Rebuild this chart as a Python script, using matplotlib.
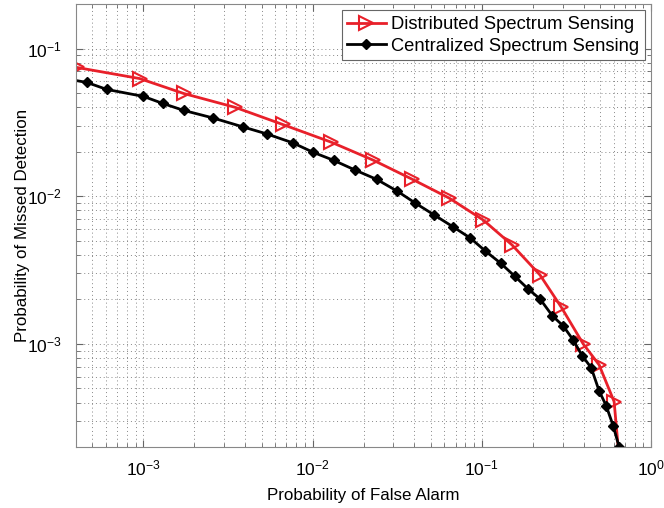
import matplotlib
matplotlib.use('Agg')
import matplotlib.pyplot as plt
import numpy as np

plt.rcParams['font.family'] = ['Liberation Sans', 'DejaVu Sans']
plt.rcParams['mathtext.fontset'] = 'custom'
plt.rcParams['mathtext.rm'] = 'Liberation Sans'
plt.rcParams['mathtext.it'] = 'Liberation Sans'

# distributed spectrum sensing (red, open triangles)
pfa_dist = [4.05e-4, 9.5e-4, 1.73e-3, 3.5e-3, 6.65e-3, 0.0129, 0.0229, 0.0389,
            0.0643, 0.102, 0.151, 0.221, 0.294, 0.397, 0.493, 0.605, 0.675]
pmd_dist = [0.0744, 0.0626, 0.0496, 0.0399, 0.0306, 0.0232, 0.0175, 0.0130,
            0.00969, 0.00689, 0.00467, 0.00292, 0.00178, 0.00100, 0.000721,
            0.000406, 0.000100]

# centralized spectrum sensing (black, filled diamonds)
pfa_cent = [3.6e-4, 4.64e-4, 6.09e-4, 1.0e-3, 1.30e-3, 1.73e-3, 2.57e-3, 3.86e-3,
            5.36e-3, 7.62e-3, 0.0101, 0.0133, 0.0179, 0.0239, 0.0317, 0.0405,
            0.0525, 0.0679, 0.0856, 0.105, 0.129, 0.156, 0.188, 0.221, 0.261,
            0.303, 0.347, 0.392, 0.443, 0.493, 0.543, 0.597, 0.647]
pmd_cent = [0.0620, 0.0589, 0.0528, 0.0474, 0.0425, 0.0381, 0.0339, 0.0295,
            0.0264, 0.0230, 0.0198, 0.0175, 0.0150, 0.0130, 0.0108, 0.00897,
            0.00744, 0.00618, 0.00520, 0.00425, 0.00352, 0.00288, 0.00235,
            0.00201, 0.00155, 0.00132, 0.00106, 0.000830, 0.000689, 0.000481,
            0.000381, 0.000279, 0.000201]

fig = plt.figure(figsize=(6.64, 5.08), dpi=100)
ax = fig.add_axes([0.1145, 0.12, 0.866, 0.872])

red = '#e8202a'
ax.loglog(pfa_dist, pmd_dist, color=red, lw=2, marker='>', ms=9.5,
          mfc='none', mec=red, mew=1.5, label='Distributed Spectrum Sensing')
ax.loglog(pfa_cent, pmd_cent, color='black', lw=2, marker='D', ms=5.5,
          mfc='black', mec='black', label='Centralized Spectrum Sensing')

ax.set_xlim(4e-4, 1)
ax.set_ylim(2e-4, 0.2)

ax.grid(True, which='both', linestyle=(0, (1, 3)), color='#888888', lw=0.7)
ax.tick_params(which='both', direction='in', top=True, right=True,
               colors='#666666', labelcolor='black', labelsize=12.5)
ax.tick_params(axis='y', which='major', pad=10)
ax.tick_params(axis='x', which='major', pad=8)
ax.tick_params(which='major', length=5)
ax.tick_params(which='minor', length=3)
for s in ax.spines.values():
    s.set_color('#888888')

ax.set_xlabel('Probability of False Alarm', fontsize=12.2, labelpad=7)
ax.set_ylabel('Probability of Missed Detection', fontsize=12.2, labelpad=-2)

leg = ax.legend(loc='upper right', fontsize=13.2, fancybox=False, framealpha=1,
                edgecolor='#666666', handlelength=2.1, borderaxespad=0.35,
                borderpad=0.3, labelspacing=0.25, handletextpad=0.3)
leg.get_frame().set_linewidth(0.8)

fig.savefig('out.png', dpi=100)
